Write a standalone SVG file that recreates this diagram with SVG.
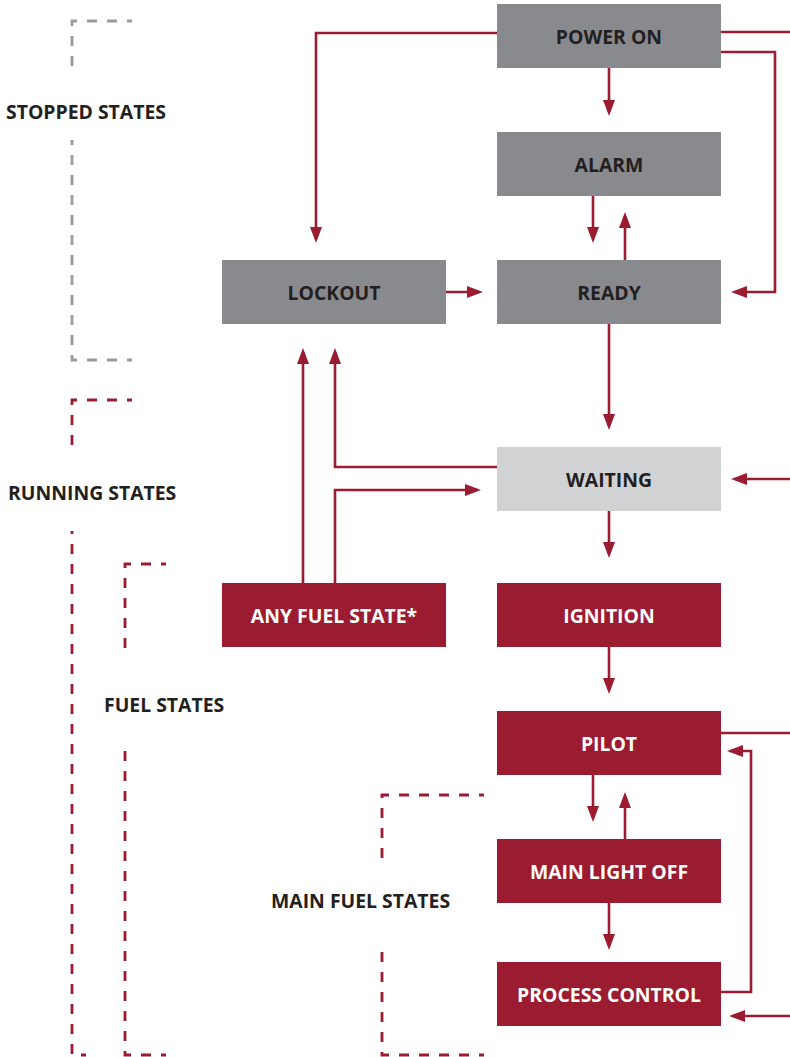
<svg xmlns="http://www.w3.org/2000/svg" width="790" height="1057" viewBox="0 0 790 1057">
<style>
.box-g{fill:#898a8e}
.box-l{fill:#d1d2d4}
.box-r{fill:#9b1b30}
.t{font-family:"Open Sans","Liberation Sans",sans-serif;font-weight:700;font-size:19.4px;text-anchor:middle}
.td{fill:#231f20}
.tw{fill:#ffffff}
.lbl{font-family:"Open Sans","Liberation Sans",sans-serif;font-weight:700;font-size:19.4px;fill:#231f20}
.c{fill:none;stroke:#9b1b30;stroke-width:2.6;marker-end:url(#ah)}
.cn{fill:none;stroke:#9b1b30;stroke-width:2.6}
.dg{fill:none;stroke:#9a9a9c;stroke-width:2.8;stroke-dasharray:10 10;stroke-dashoffset:5}
.dr{fill:none;stroke:#9b1b30;stroke-width:2.8;stroke-dasharray:10 10;stroke-dashoffset:5}
</style>
<defs>
<marker id="ah" viewBox="0 0 16 12" markerWidth="16" markerHeight="12" refX="12" refY="6" orient="auto" markerUnits="userSpaceOnUse">
<path d="M0,0 L16,6 L0,12 Z" fill="#9b1b30"/>
</marker>
</defs>

<g id="groups">
<path class="dg" d="M132,21 H72 V69"/>
<path class="dg" d="M132,360 H72 V140"/>
<text class="lbl" x="6" y="119">STOPPED STATES</text>
<path class="dr" d="M132,400 H72 V446"/>
<path class="dr" d="M86,1055 H72 V531"/>
<text class="lbl" x="8" y="500">RUNNING STATES</text>
<path class="dr" d="M166,564 H125 V655"/>
<path class="dr" d="M166,1055 H125 V748"/>
<text class="lbl" x="104" y="712">FUEL STATES</text>
<path class="dr" d="M484,795 H382 V860"/>
<path class="dr" d="M484,1055 H382 V942"/>
<text class="lbl" x="271" y="908">MAIN FUEL STATES</text>
</g>

<g id="connectors">
<path class="c" d="M497,33 H316 V239"/>
<path class="cn" d="M721,32 H790"/>
<path class="c" d="M721,52 H775 V292 H735"/>
<path class="c" d="M609,68 V112"/>
<path class="c" d="M593,196 V239"/>
<path class="c" d="M625,260 V216"/>
<path class="c" d="M446,292 H479"/>
<path class="c" d="M609,324 V426"/>
<path class="c" d="M790,479 H735"/>
<path class="c" d="M497,467 H335 V352"/>
<path class="c" d="M303,583 V352"/>
<path class="c" d="M335,583 V490 H477"/>
<path class="c" d="M609,511 V554"/>
<path class="c" d="M609,647 V690"/>
<path class="cn" d="M721,733 H790"/>
<path class="c" d="M721,992 H751 V751 H731"/>
<path class="c" d="M593,775 V818"/>
<path class="c" d="M625,839 V796"/>
<path class="c" d="M609,903 V946"/>
<path class="c" d="M790,1016 H733"/>
</g>

<g id="power-on"><rect class="box-g" x="497" y="4" width="224" height="64"/><text class="t td" x="609" y="44">POWER ON</text></g>
<g id="alarm"><rect class="box-g" x="497" y="132" width="224" height="64"/><text class="t td" x="609" y="172">ALARM</text></g>
<g id="lockout"><rect class="box-g" x="222" y="260" width="224" height="64"/><text class="t td" x="334" y="300">LOCKOUT</text></g>
<g id="ready"><rect class="box-g" x="497" y="260" width="224" height="64"/><text class="t td" x="609" y="300">READY</text></g>
<g id="waiting"><rect class="box-l" x="497" y="447" width="224" height="64"/><text class="t td" x="609" y="487">WAITING</text></g>
<g id="any-fuel-state"><rect class="box-r" x="222" y="583" width="224" height="64"/><text class="t tw" x="334" y="623">ANY FUEL STATE*</text></g>
<g id="ignition"><rect class="box-r" x="497" y="583" width="224" height="64"/><text class="t tw" x="609" y="623">IGNITION</text></g>
<g id="pilot"><rect class="box-r" x="497" y="711" width="224" height="64"/><text class="t tw" x="609" y="751">PILOT</text></g>
<g id="main-light-off"><rect class="box-r" x="497" y="839" width="224" height="64"/><text class="t tw" x="609" y="879">MAIN LIGHT OFF</text></g>
<g id="process-control"><rect class="box-r" x="497" y="962" width="224" height="64"/><text class="t tw" x="609" y="1002">PROCESS CONTROL</text></g>
</svg>
